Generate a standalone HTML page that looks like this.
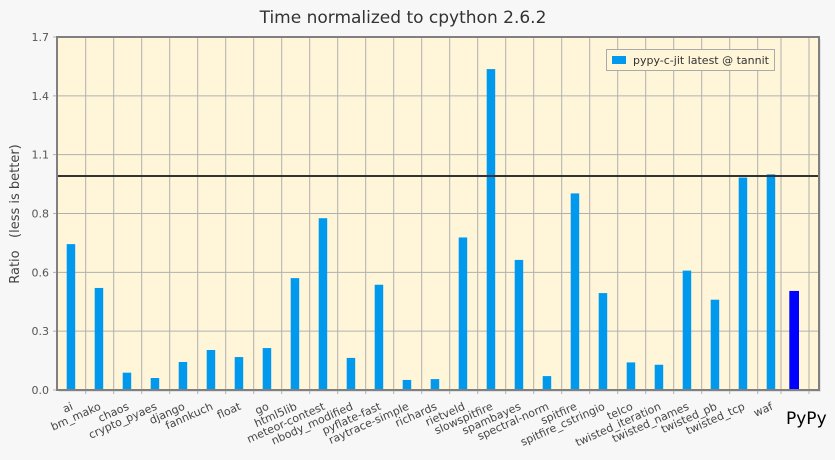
<!DOCTYPE html>
<html><head><meta charset="utf-8">
<style>
html,body{margin:0;padding:0;background:#f7f7f7;}
svg{display:block;font-family:"DejaVu Sans","Liberation Sans",sans-serif;}
</style></head>
<body>
<svg id="chart" width="835" height="460">
<text x="403" y="23" text-anchor="middle" font-size="17" fill="#333">Time normalized to cpython 2.6.2</text>
<text transform="translate(19,214) rotate(-90)" text-anchor="middle" font-size="13" fill="#444" xml:space="preserve">Ratio   (less is better)</text>
<g id="plot"></g>
</svg>
<script>
const categories = ["ai","bm_mako","chaos","crypto_pyaes","django","fannkuch","float","go","html5lib","meteor-contest","nbody_modified","pyflate-fast","raytrace-simple","richards","rietveld","slowspitfire","spambayes","spectral-norm","spitfire","spitfire_cstringio","telco","twisted_iteration","twisted_names","twisted_pb","twisted_tcp","waf"];
const values = [0.682,0.477,0.081,0.056,0.131,0.187,0.154,0.196,0.523,0.803,0.150,0.492,0.047,0.051,0.713,1.500,0.608,0.065,0.919,0.453,0.129,0.118,0.558,0.422,0.993,1.008];
const pypyValue = [0.463];
const baselineValue = [1.0];
const yTicks = [0,0.275,0.55,0.825,1.1,1.375,1.65];
const yTickLabels = ["0.0","0.3","0.6","0.8","1.1","1.4","1.7"];
const yMax = 1.65;

const NS="http://www.w3.org/2000/svg";
const g=document.getElementById('plot');
const L=57,R=819,T=37,B=390;
function y(v){return B-(v/yMax)*(B-T);}
function x(i){return 66.7+28*i;}
function mk(tag,attrs){const e=document.createElementNS(NS,tag);for(const k in attrs)e.setAttribute(k,attrs[k]);g.appendChild(e);return e;}

let e=mk('rect',{x:L+2,y:T+2,width:R-L,height:B-T,fill:'#e2e2e2'});


e=mk('rect',{x:L,y:T,width:R-L,height:B-T,fill:'#fff5d9'});



const vg=[];
for(let k=0;k<25;k++)vg.push(85.7+28*k);
vg.push(781,809);
vg.forEach(gx=>{
  const l=mk('line',{x1:gx,x2:gx,y1:T,y2:B+4,stroke:'#b0b0b0','stroke-width':1});
  
  
});
yTicks.forEach((v,i)=>{
  const l=mk('line',{x1:L-4,x2:R,y1:y(v),y2:y(v),stroke:'#b0b0b0','stroke-width':1});
  
  
  const t=mk('text',{x:L-8,y:y(v)+4,'text-anchor':'end','font-size':11,fill:'#555'});
  t.textContent=yTickLabels[i];
  
  
});
values.forEach((v,i)=>{
  const r=mk('rect',{x:x(i),y:y(v),width:8.5,height:B-y(v),fill:'#0099ee'});
  
  
  const t=mk('text',{x:0,y:0,'text-anchor':'end','font-size':11,fill:'#444',transform:`translate(${x(i)+7},${409}) rotate(-24)`});
  t.textContent=categories[i];
  
  
});
e=mk('rect',{x:789.3,y:y(pypyValue[0]),width:9.7,height:B-y(pypyValue[0]),fill:'#0000ff'});


e=mk('text',{x:786,y:424,'font-size':17,fill:'#000'});
e.textContent='PyPy';


e=mk('line',{x1:L,x2:R,y1:y(baselineValue[0]),y2:y(baselineValue[0]),stroke:'#333','stroke-width':2});


e=mk('rect',{x:L,y:T,width:R-L,height:B-T,fill:'none',stroke:'#808080','stroke-width':2});


e=mk('rect',{x:606.5,y:49.5,width:168,height:21,fill:'#fff5d9',stroke:'#aaa','stroke-width':1});


e=mk('rect',{x:612,y:56,width:14,height:8,fill:'#0099ee'});


e=mk('text',{x:633,y:64,'font-size':11,fill:'#333'});
e.textContent='pypy-c-jit latest @ tannit';


</script>
</body></html>
